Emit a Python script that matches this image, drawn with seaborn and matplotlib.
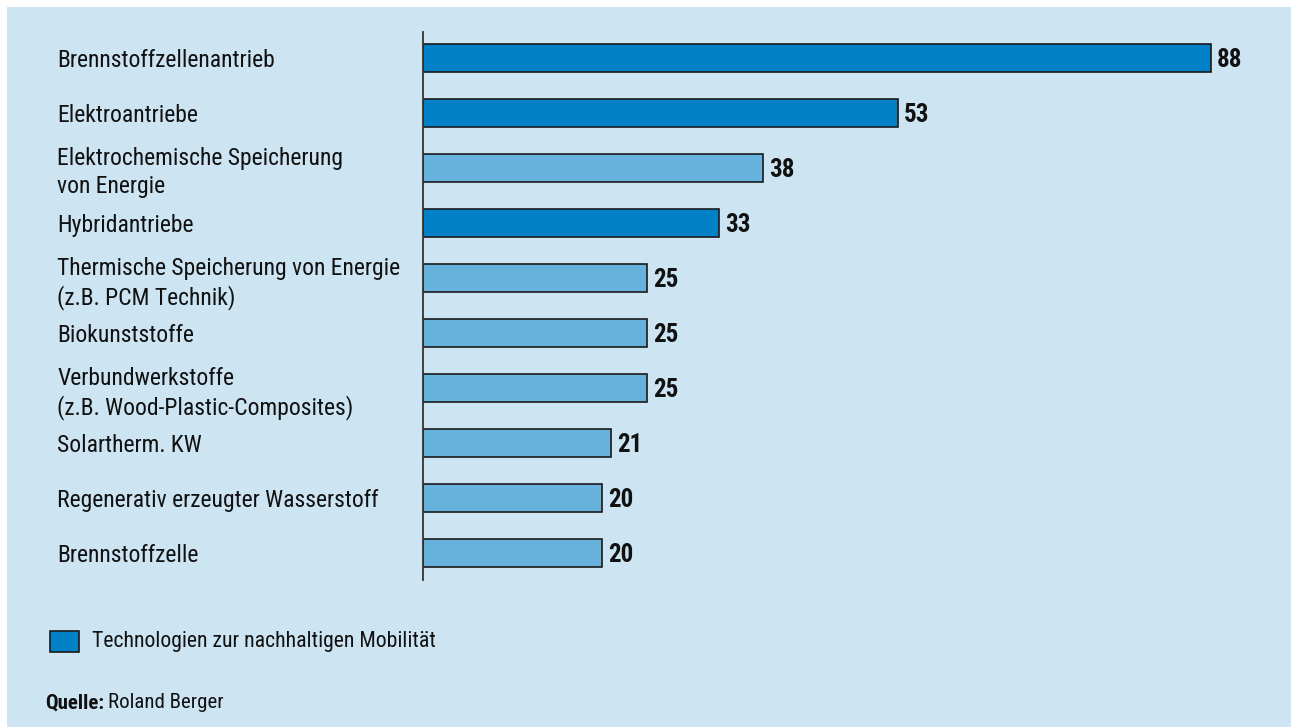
import matplotlib
matplotlib.use("Agg")
import matplotlib.pyplot as plt
from matplotlib.patches import Rectangle
import pandas as pd
import seaborn as sns

categories = [
    "Brennstoffzellenantrieb",
    "Elektroantriebe",
    "Elektrochemische Speicherung\nvon Energie",
    "Hybridantriebe",
    "Thermische Speicherung von Energie\n(z.B. PCM Technik)",
    "Biokunststoffe",
    "Verbundwerkstoffe\n(z.B. Wood-Plastic-Composites)",
    "Solartherm. KW",
    "Regenerativ erzeugter Wasserstoff",
    "Brennstoffzelle",
]
values = [88, 53, 38, 33, 25, 25, 25, 21, 20, 20]
mobility_label = "Technologien zur nachhaltigen Mobilität"
other_label = "Sonstige Technologien"
groups = [mobility_label, mobility_label, other_label, mobility_label,
          other_label, other_label, other_label, other_label,
          other_label, other_label]

df = pd.DataFrame({"Technologie": categories, "Wert": values, "Gruppe": groups})

sns.set_theme(style="white")
plt.rcParams["font.family"] = ["Roboto Condensed", "Liberation Sans Narrow",
                               "Roboto", "DejaVu Sans"]

BG = "#CDE5F2"
DARK = "#0080C6"
LIGHT = "#66B2DD"
EDGE = "#1a1a1a"
TEXT = "#111111"

W, H = 1291, 727
fig = plt.figure(figsize=(W / 100, H / 100), dpi=100, facecolor="white")
fig.patches.append(Rectangle((7 / W, 0), 1 - 7 / W, 1 - 7 / H,
                             transform=fig.transFigure, facecolor=BG,
                             edgecolor="none", zorder=-10))

ax_left, ax_right = 423, 1260
ax_top, ax_bottom = 32, 580
ax = fig.add_axes([ax_left / W, 1 - ax_bottom / H,
                   (ax_right - ax_left) / W, (ax_bottom - ax_top) / H])
ax.set_facecolor("none")

sns.barplot(data=df, y="Technologie", x="Wert", hue="Gruppe",
            palette={mobility_label: DARK, other_label: LIGHT},
            orient="h", width=0.5, dodge=False, edgecolor=EDGE,
            linewidth=1.2, saturation=1, legend=False, ax=ax)

px_per_unit = (1211 - ax_left) / 88
ax.set_xlim(0, (ax_right - ax_left) / px_per_unit)
ax.set_ylim(len(categories) - 1 + (ax_bottom - 553) / 55, -(58 - ax_top) / 55)

for cont in ax.containers:
    labels = ax.bar_label(cont, fmt="%d", padding=4.5, fontsize=18,
                          fontweight="bold", color=TEXT)
    for t in labels:
        t.set_y(-1.5)

for side in ["top", "right", "bottom"]:
    ax.spines[side].set_visible(False)
ax.spines["left"].set_color("#333333")
ax.spines["left"].set_linewidth(1.3)
ax.set_xticks([])
ax.set_xlabel("")
ax.set_ylabel("")
ax.tick_params(axis="y", length=0, pad=(ax_left - 57) * 0.72, labelsize=17,
               labelcolor=TEXT)
for lbl in ax.get_yticklabels():
    lbl.set_horizontalalignment("left")
    lbl.set_linespacing(1.25)

# legend key for the mobility technologies
fig.patches.append(Rectangle((50 / W, 1 - 652 / H), 29 / W, 21 / H,
                             transform=fig.transFigure, facecolor=DARK,
                             edgecolor=EDGE, linewidth=1.2))
fig.text(92 / W, 1 - 641 / H, mobility_label, fontsize=15.7, color=TEXT,
         va="center", ha="left")

src_bold = fig.text(45 / W, 1 - 703 / H, "Quelle:", fontsize=15,
                    fontweight="bold", color=TEXT, va="center", ha="left")
renderer = fig.canvas.get_renderer()
bb = src_bold.get_window_extent(renderer)
fig.text((bb.x1 + 4) / W, 1 - 703 / H, "Roland Berger", fontsize=15,
         color=TEXT, va="center", ha="left")

fig.savefig("out.png", dpi=100, facecolor="white")
